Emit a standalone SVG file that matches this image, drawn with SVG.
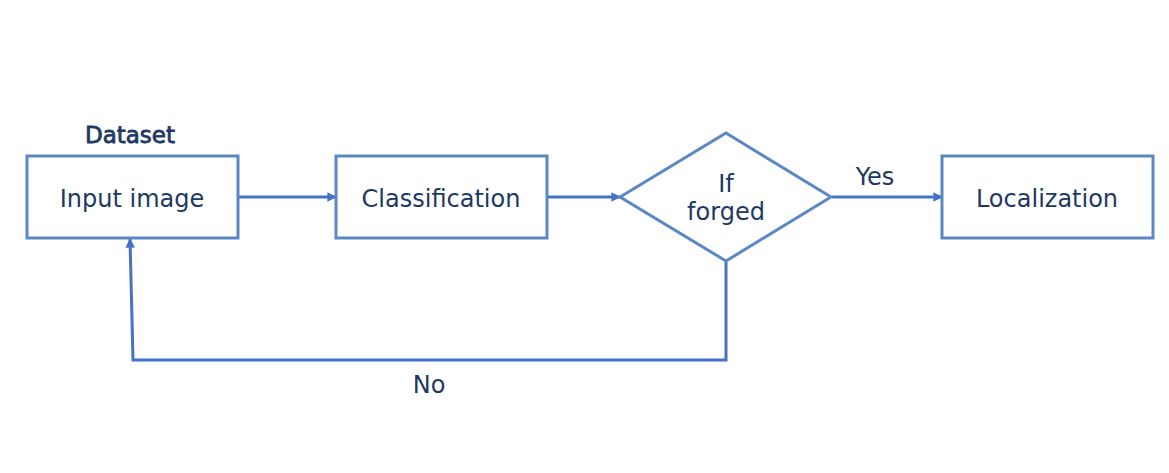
<svg xmlns="http://www.w3.org/2000/svg" width="1169" height="473" viewBox="0 0 1169 473">
<style>
.node{fill:#fff;stroke:#5b87c5;stroke-width:3}
.t{font-family:"DejaVu Sans",Verdana,sans-serif;font-size:24px;fill:#203864;text-anchor:middle}
.c{fill:none;stroke:#4472c4;stroke-width:3}
</style>
<defs>
<marker id="ah" viewBox="0 0 10 10" refX="9" refY="5" markerWidth="3.2" markerHeight="3.2" orient="auto" markerUnits="strokeWidth">
<path d="M0,0 L10,5 L0,10 z" fill="#4472c4"/>
</marker>
</defs>
<rect width="1169" height="473" fill="#fff"/>
<g id="connectors">
<line class="c" x1="239" y1="197" x2="336" y2="197" marker-end="url(#ah)"/>
<line class="c" x1="548" y1="197" x2="620" y2="197" marker-end="url(#ah)"/>
<line class="c" x1="832" y1="197" x2="942" y2="197" marker-end="url(#ah)"/>
<polyline class="c" points="726,262 726,360 133,360 130,239" marker-end="url(#ah)"/>
</g>
<g id="dataset-label"><text class="t" x="130" y="143" style="font-size:23px;stroke:#203864;stroke-width:0.8">Dataset</text></g>
<g id="input"><rect class="node" x="27" y="156" width="211" height="82"/><text class="t" x="132" y="207">Input image</text></g>
<g id="classification"><rect class="node" x="336" y="156" width="211" height="82"/><text class="t" x="441" y="207">Classification</text></g>
<g id="decision"><polygon class="node" points="620,197 726,133 831,197 726,261"/><text class="t" x="726" y="192">If</text><text class="t" x="726" y="220">forged</text></g>
<g id="localization"><rect class="node" x="942" y="156" width="211" height="82"/><text class="t" x="1047" y="207">Localization</text></g>
<g id="yes-label"><text class="t" x="875" y="185">Yes</text></g>
<g id="no-label"><text class="t" x="429" y="393">No</text></g>
</svg>
